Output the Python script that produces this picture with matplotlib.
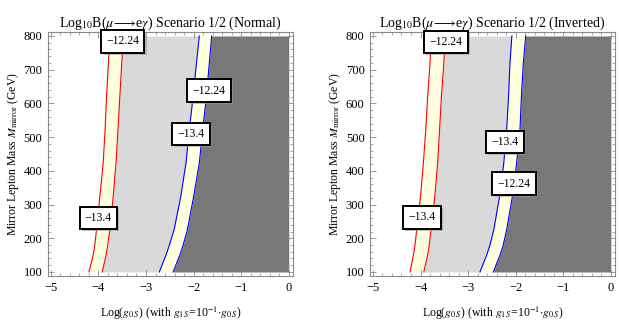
import numpy as np
import matplotlib
matplotlib.use("Agg")
import matplotlib.pyplot as plt
import matplotlib.patheffects as pe
from matplotlib.ticker import MultipleLocator

plt.rcParams['font.family'] = ['Liberation Serif', 'DejaVu Serif']
plt.rcParams['mathtext.fontset'] = 'stix'

# mirror lepton mass grid (GeV)
mass = [100, 150, 175, 225, 323, 423, 521, 620, 719, 800]

# contour positions in Log(g0S)
# Normal hierarchy
norm_red_lo = [-4.20, -4.11, -4.08, -4.04, -3.97, -3.90, -3.86, -3.83, -3.79, -3.76]
norm_red_hi = [-3.92, -3.84, -3.81, -3.76, -3.69, -3.63, -3.59, -3.55, -3.51, -3.47]
norm_blue_lo = [-2.72, -2.58, -2.52, -2.41, -2.27, -2.16, -2.09, -2.01, -1.94, -1.88]
norm_blue_hi = [-2.43, -2.29, -2.23, -2.13, -2.00, -1.88, -1.81, -1.73, -1.67, -1.62]
# Inverted hierarchy
inv_red_lo = [-4.22, -4.15, -4.12, -4.08, -4.00, -3.94, -3.89, -3.85, -3.80, -3.77]
inv_red_hi = [-3.93, -3.85, -3.82, -3.78, -3.70, -3.64, -3.60, -3.56, -3.51, -3.48]
inv_blue_lo = [-2.75, -2.61, -2.55, -2.46, -2.34, -2.25, -2.19, -2.15, -2.12, -2.08]
inv_blue_hi = [-2.47, -2.33, -2.27, -2.19, -2.07, -1.98, -1.91, -1.88, -1.84, -1.79]

# contour labels: (text, x, y)
norm_labels = [("\u221212.24", -3.49, 784), ("\u221213.4", -4.00, 260),
               ("\u221212.24", -1.67, 638), ("\u221213.4", -2.05, 509)]
inv_labels = [("\u221212.24", -3.46, 782), ("\u221213.4", -3.97, 262),
              ("\u221213.4", -2.23, 486), ("\u221212.24", -2.03, 362)]

yellow = '#FFFFE0'
light = '#D9D9D9'
dark = '#787878'
framec = '#8a8a8a'

fig = plt.figure(figsize=(6.23, 3.29), dpi=100)
ax1 = fig.add_axes([0.077, 0.161, 0.393, 0.742])
ax2 = fig.add_axes([0.594, 0.161, 0.393, 0.742])


def panel(ax, rlo, rhi, blo, bhi, labels, name):
    m = np.array(mass)
    ax.fill_betweenx(m, rlo, rhi, color=yellow, lw=0)
    ax.fill_betweenx(m, rhi, blo, color=light, lw=0)
    ax.fill_betweenx(m, blo, bhi, color=yellow, lw=0)
    ax.fill_betweenx(m, bhi, 0, color=dark, lw=0)
    ax.plot(rlo, m, color='red', lw=0.8)
    ax.plot(rhi, m, color='red', lw=0.8)
    ax.plot(blo, m, color='blue', lw=0.8)
    ax.plot(bhi, m, color='blue', lw=0.8)
    for txt, x, y in labels:
        t = ax.text(x, y, txt, ha='center', va='center', fontsize=8.5,
                    bbox=dict(boxstyle='square,pad=0.45', fc='white',
                              ec='black', lw=1.4), zorder=5)
        t.get_bbox_patch().set_path_effects(
            [pe.SimplePatchShadow(offset=(1.5, -1.5), shadow_rgbFace='#999999', alpha=0.6),
             pe.Normal()])
    ax.set_xlim(-5.06, 0.085)
    ax.set_ylim(88, 812)
    ax.xaxis.set_major_locator(MultipleLocator(1))
    ax.xaxis.set_minor_locator(MultipleLocator(0.2))
    ax.yaxis.set_major_locator(MultipleLocator(100))
    ax.yaxis.set_minor_locator(MultipleLocator(20))
    ax.tick_params(which='both', direction='in', top=True, right=True,
                   color=framec, labelsize=9, pad=4)
    ax.tick_params(which='major', length=4, width=0.6)
    ax.tick_params(which='minor', length=2, width=0.5)
    ax.set_xticks([-5, -4, -3, -2, -1, 0])
    ax.set_xticklabels(['\u22125', '\u22124', '\u22123', '\u22122', '\u22121', '0'])
    for s in ax.spines.values():
        s.set_color(framec)
        s.set_linewidth(0.8)
    ax.set_title(r'Log$_{10}$B($\mu\!\longrightarrow\!$e$\gamma$) Scenario 1/2 (' + name + ')',
                 fontsize=10, pad=4)
    ax.set_xlabel(r'Log($g_{0\,S}$) (with $g_{1\,S}$=10$^{-1}$$\cdot$$g_{0\,S}$)',
                  fontsize=8.5, labelpad=8)
    ax.set_ylabel(r'Mirror Lepton Mass $M_{\mathrm{mirror}}$ (GeV)', fontsize=8.5, labelpad=2)


panel(ax1, norm_red_lo, norm_red_hi, norm_blue_lo, norm_blue_hi, norm_labels, 'Normal')
panel(ax2, inv_red_lo, inv_red_hi, inv_blue_lo, inv_blue_hi, inv_labels, 'Inverted')

fig.savefig('out.png', dpi=100)
